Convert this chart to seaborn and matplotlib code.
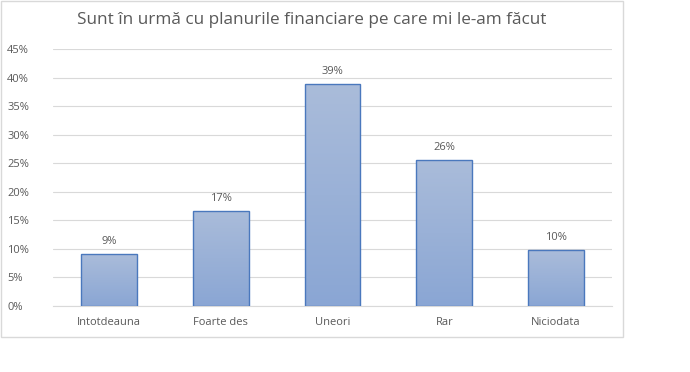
"""
Bar chart: Sunt în urmă cu planurile financiare pe care mi le-am făcut.
"""

import numpy as np
import pandas as pd
import seaborn as sns
import matplotlib.pyplot as plt
from matplotlib.patches import Rectangle
from matplotlib.colors import LinearSegmentedColormap
from matplotlib.ticker import PercentFormatter, MultipleLocator

# ============================================================
# DATA
# ============================================================

categories = ["Intotdeauna", "Foarte des", "Uneori", "Rar", "Niciodata"]
values = [9.1, 16.7, 38.9, 25.6, 9.8]
labels = ["9%", "17%", "39%", "26%", "10%"]
title = "Sunt în urmă cu planurile financiare pe care mi le-am făcut"

df = pd.DataFrame({"cat": categories, "val": values})

# ============================================================
# STYLE
# ============================================================

sns.set_style("white")
plt.rcParams["font.family"] = ["Open Sans", "DejaVu Sans"]
TEXT = "#595959"
GRID = "#d9d9d9"

fig = plt.figure(figsize=(6.9, 3.72), dpi=100)
ax = fig.add_axes([53 / 690, 66 / 372, 559 / 690, 257 / 372])

# outer chart frame
fig.patches.append(Rectangle((1 / 690, 35 / 372), 622 / 690, 336 / 372,
                             transform=fig.transFigure, fill=False,
                             edgecolor=GRID, linewidth=1))

sns.barplot(data=df, x="cat", y="val", ax=ax, width=0.5,
            color="#a0b4d8", edgecolor="#4a78bd", linewidth=1, zorder=3)

# gradient fill clipped to each bar
cmap = LinearSegmentedColormap.from_list("g", ["#8aa6d4", "#aabcda"])
grad = np.linspace(0, 1, 256).reshape(-1, 1)
for p in ax.patches:
    x0, y0 = p.get_x(), p.get_y()
    w, h = p.get_width(), p.get_height()
    im = ax.imshow(grad, cmap=cmap, origin="lower", aspect="auto",
                   extent=(x0, x0 + w, y0, y0 + h), zorder=2.5)
    im.set_clip_path(p)
    p.set_facecolor("none")

ax.set_xlim(-0.5, len(categories) - 0.5)
ax.set_ylim(0, 45)

for p, lab in zip(ax.patches, labels):
    ax.annotate(lab, (p.get_x() + p.get_width() / 2, p.get_height()),
                xytext=(0, 5), textcoords="offset points",
                ha="center", va="bottom", fontsize=8, color=TEXT)

ax.yaxis.set_major_locator(MultipleLocator(5))
ax.yaxis.set_major_formatter(PercentFormatter(decimals=0))
ax.grid(axis="y", color=GRID, linewidth=0.8, zorder=0)
ax.set_axisbelow(True)
for s in ["top", "right", "left"]:
    ax.spines[s].set_visible(False)
ax.spines["bottom"].set_color(GRID)
ax.spines["bottom"].set_linewidth(0.8)

ax.tick_params(axis="y", length=0, pad=33, labelsize=8, labelcolor=TEXT)
ax.tick_params(axis="x", length=0, pad=8, labelsize=8, labelcolor=TEXT)
for t in ax.get_yticklabels():
    t.set_horizontalalignment("left")
ax.set_xlabel("")
ax.set_ylabel("")

fig.text(312 / 690, 1 - 20 / 372, title, ha="center", va="center",
         fontsize=12.3, color=TEXT)

fig.savefig("out.png", dpi=100, facecolor="white")
